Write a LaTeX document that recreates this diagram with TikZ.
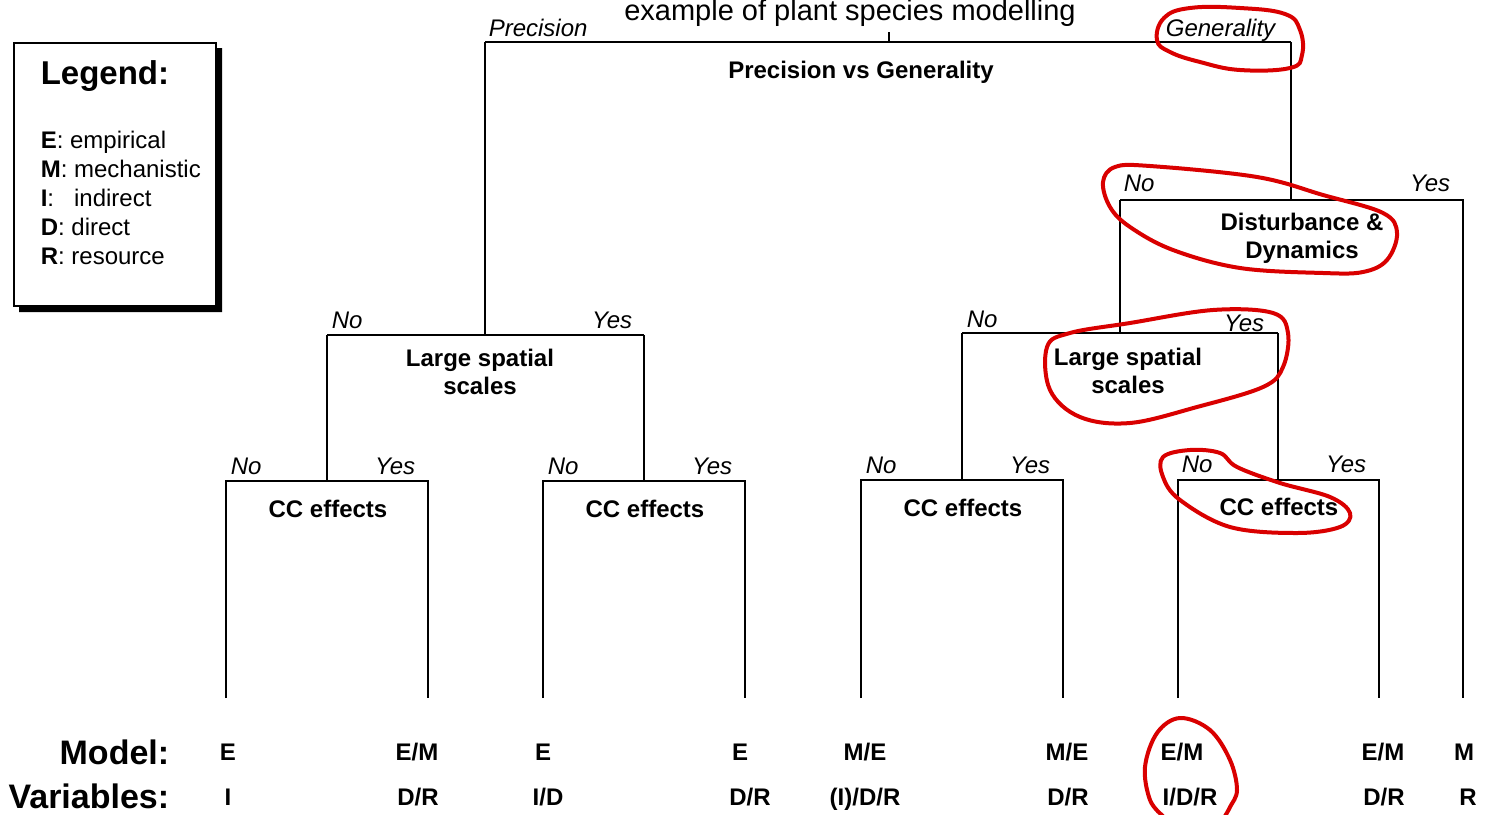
\documentclass[tikz,border=0pt]{standalone}
\usepackage{fontspec}
\setmainfont{Liberation Sans}
\begin{document}
\begin{tikzpicture}[x=0.5pt,y=-0.5pt,line width=0.8pt,
    quest/.style={font=\fontsize{12}{14.2}\selectfont\bfseries,align=center},
    answer/.style={font=\fontsize{12}{14}\selectfont\itshape,inner sep=0pt},
    leaf/.style={font=\fontsize{12}{14}\selectfont\bfseries,anchor=base,inner sep=0pt},
    rowname/.style={font=\fontsize{17}{19}\selectfont\bfseries,anchor=base east,inner sep=0pt},
    legitem/.style={font=\fontsize{12}{14}\selectfont,anchor=base west,inner sep=0pt},
    redring/.style={draw=red!85!black,line width=2pt,line join=round}]
    \useasboundingbox (0,0) rectangle (1488,814);

    % title
    \node[font=\fontsize{14.5}{16}\selectfont,anchor=base,inner sep=0pt] (title) at (850,20) {example of plant species modelling};

    % legend
    \fill (216,48) -- (222,48) -- (222,312) -- (19,312) -- (19,306) -- (216,306) -- cycle;
    \draw[line width=1pt] (14,43) rectangle (216,306);
    \node[font=\fontsize{16.5}{18}\selectfont\bfseries,anchor=base west,inner sep=0pt] (leg) at (40,84) {Legend:};
    \node[legitem] (legE) at (40,148) {\textbf{E}: empirical};
    \node[legitem] (legM) at (40,177) {\textbf{M}: mechanistic};
    \node[legitem] (legI) at (40,206) {\textbf{I}:\ \ \ indirect};
    \node[legitem] (legD) at (40,235) {\textbf{D}: direct};
    \node[legitem] (legR) at (40,264) {\textbf{R}: resource};

    % questions
    \node[quest] (pg) at (861,72) {Precision vs Generality};
    \node[quest] (lsL) at (480,372) {Large spatial\\scales};
    \node[quest] (dd) at (1302,238) {Disturbance \&\\Dynamics};
    \node[quest] (lsR) at (1128,371) {Large spatial\\scales};
    \node[quest] (cc1) at (328,509) {CC effects};
    \node[quest] (cc2) at (645,509) {CC effects};
    \node[quest] (cc3) at (963,508) {CC effects};
    \node[quest] (cc4) at (1279,507) {CC effects};

    % bracket corners
    \coordinate (pgL) at (485,42);   \coordinate (pgR) at (1291,42);
    \coordinate (lsLL) at (327,335); \coordinate (lsLR) at (644,335);
    \coordinate (ddL) at (1120,200); \coordinate (ddR) at (1463,200);
    \coordinate (lsRL) at (962,333); \coordinate (lsRR) at (1278,333);
    \coordinate (cc1L) at (226,481); \coordinate (cc1R) at (428,481);
    \coordinate (cc2L) at (543,481); \coordinate (cc2R) at (745,481);
    \coordinate (cc3L) at (861,480); \coordinate (cc3R) at (1063,480);
    \coordinate (cc4L) at (1178,480); \coordinate (cc4R) at (1379,480);

    % tree
    \draw (889,32) -- (889,42);
    \draw (pgL) -- (pgR);
    \draw (pgL) -- (pgL |- lsLL);
    \draw (pgR) -- (pgR |- ddL);
    \draw (lsLL) -- (lsLR);
    \draw (lsLL) -- (lsLL |- cc1L);
    \draw (lsLR) -- (lsLR |- cc2L);
    \draw (ddL) -- (ddR) -- (1463,698);
    \draw (ddL) -- (ddL |- lsRL);
    \draw (lsRL) -- (lsRR);
    \draw (lsRL) -- (lsRL |- cc3L);
    \draw (lsRR) -- (lsRR |- cc4L);
    \draw (226,698) -- (cc1L) -- (cc1R) -- (428,698);
    \draw (543,698) -- (cc2L) -- (cc2R) -- (745,698);
    \draw (861,698) -- (cc3L) -- (cc3R) -- (1063,698);
    \draw (1178,698) -- (cc4L) -- (cc4R) -- (1379,698);

    % answers
    \node[answer,anchor=base west] (prec) at (488,36) {Precision};
    \node[answer,anchor=base east] (gen) at (1276,36) {Generality};
    \node[answer,anchor=base west] (no1) at (331,328) {No};
    \node[answer,anchor=base east] (yes1) at (633,328) {Yes};
    \node[answer,anchor=base west] (no2) at (230,474) {No};
    \node[answer,anchor=base east] (yes2) at (416,474) {Yes};
    \node[answer,anchor=base west] (no3) at (547,474) {No};
    \node[answer,anchor=base east] (yes3) at (733,474) {Yes};
    \node[answer,anchor=base west] (no4) at (1123,191) {No};
    \node[answer,anchor=base east] (yes4) at (1451,191) {Yes};
    \node[answer,anchor=base west] (no5) at (966,327) {No};
    \node[answer,anchor=base east] (yes5) at (1265,331) {Yes};
    \node[answer,anchor=base west] (no6) at (865,473) {No};
    \node[answer,anchor=base east] (yes6) at (1051,473) {Yes};
    \node[answer,anchor=base west] (no7) at (1181,472) {No};
    \node[answer,anchor=base east] (yes7) at (1367,472) {Yes};

    % leaves
    \node[rowname] (model) at (170,764) {Model:};
    \node[rowname] (vars) at (170,808) {Variables:};
    \node[leaf] (m1) at (228,760) {E};     \node[leaf] (v1) at (228,805) {I};
    \node[leaf] (m2) at (417,760) {E/M};   \node[leaf] (v2) at (418,805) {D/R};
    \node[leaf] (m3) at (543,760) {E};     \node[leaf] (v3) at (548,805) {I/D};
    \node[leaf] (m4) at (740,760) {E};     \node[leaf] (v4) at (750,805) {D/R};
    \node[leaf] (m5) at (865,760) {M/E};   \node[leaf] (v5) at (865,805) {(I)/D/R};
    \node[leaf] (m6) at (1067,760) {M/E};  \node[leaf] (v6) at (1068,805) {D/R};
    \node[leaf] (m7) at (1182,760) {E/M};  \node[leaf] (v7) at (1190,805) {I/D/R};
    \node[leaf] (m8) at (1383,760) {E/M};  \node[leaf] (v8) at (1384,805) {D/R};
    \node[leaf] (m9) at (1464,760) {M};    \node[leaf] (v9) at (1468,805) {R};

    % red marks
    \draw[redring] plot[smooth cycle,tension=0.7] coordinates {(1157,40) (1164,18) (1190,8) (1240,8) (1285,14) (1300,30) (1302,55) (1290,68) (1240,70) (1200,62) (1170,52)};
    \draw[redring] plot[smooth cycle,tension=0.6] coordinates {(1103,182) (1115,167) (1150,166) (1257,177) (1323,195) (1383,213) (1397,233) (1387,260) (1363,272) (1323,273) (1240,268) (1173,250) (1130,227) (1110,207)};
    \draw[redring] plot[smooth cycle,tension=0.6] coordinates {(1047,347) (1070,333) (1130,323) (1213,310) (1273,313) (1288,333) (1283,367) (1263,387) (1197,407) (1130,423) (1080,417) (1050,390)};
    \draw[redring] plot[smooth cycle,tension=0.6] coordinates {(1163,457) (1190,450) (1220,453) (1237,467) (1280,483) (1330,497) (1350,513) (1340,527) (1297,533) (1230,527) (1180,500) (1163,477)};
    \draw[redring] plot[smooth,tension=0.6] coordinates {(1163,816) (1150,800) (1145,767) (1157,733) (1180,718) (1210,730) (1230,760) (1237,790) (1230,807) (1225,816)};
\end{tikzpicture}
\end{document}
